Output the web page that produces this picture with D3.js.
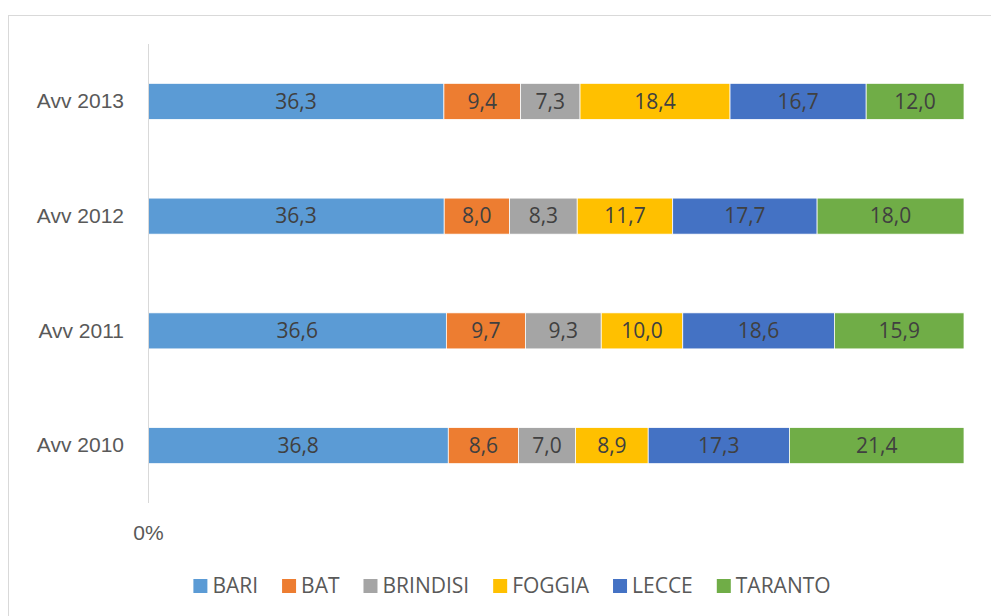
<!DOCTYPE html>
<html>
<head>
<meta charset="utf-8">
<script src="https://cdn.jsdelivr.net/npm/d3@7"></script>
<style>
  body { margin: 0; background: #fff; }
  svg { display: block; font-family: "Open Sans", "Noto Sans", sans-serif; }
</style>
</head>
<body>
<svg id="chart" width="991" height="616"></svg>
<script>
// categories, top to bottom
const years = ["Avv 2013", "Avv 2012", "Avv 2011", "Avv 2010"];
const provinces = ["BARI", "BAT", "BRINDISI", "FOGGIA", "LECCE", "TARANTO"];
const colors = ["#5B9BD5", "#ED7D31", "#A5A5A5", "#FFC000", "#4472C4", "#70AD47"];

// values per year, in province order
const bari     = [36.3, 36.3, 36.6, 36.8];
const bat      = [9.4, 8.0, 9.7, 8.6];
const brindisi = [7.3, 8.3, 9.3, 7.0];
const foggia   = [18.4, 11.7, 10.0, 8.9];
const lecce    = [16.7, 17.7, 18.6, 17.3];
const taranto  = [12.0, 18.0, 15.9, 21.4];
const xTicks = [0];

const series = [bari, bat, brindisi, foggia, lecce, taranto];
const fontSize = "21px";

const rows = years.map((y, i) => {
    const row = { year: y };
    provinces.forEach((p, k) => row[p] = series[k][i]);
    return row;
});

const svg = d3.select("#chart");

// chart frame
svg.append("rect")
    .attr("x", 8.5).attr("y", 15.5)
    .attr("width", 1000).attr("height", 700)
    .attr("fill", "none")
    .attr("stroke", "#d9d9d9");

const margin = { left: 148, top: 44, right: 27, bottom: 113 };
const width = 991 - margin.left - margin.right;
const height = 616 - margin.top - margin.bottom;

const g = svg.append("g").attr("transform", `translate(${margin.left},${margin.top})`);

const x = d3.scaleLinear().domain([0, 1]).range([0, width]);
const y = d3.scaleBand().domain(years).range([0, height]).paddingInner(0.686).paddingOuter(0.343);

const stack = d3.stack().keys(provinces).offset(d3.stackOffsetExpand);
const layers = stack(rows);

const layer = g.selectAll(".layer")
    .data(layers)
    .enter().append("g")
    .attr("class", "layer")
    .attr("fill", (d, i) => colors[i]);

layer.selectAll("rect")
    .data(d => d)
    .enter().append("rect")
    .attr("x", d => x(d[0]))
    .attr("y", d => y(d.data.year))
    .attr("width", d => x(d[1]) - x(d[0]))
    .attr("height", y.bandwidth())
    .attr("stroke", "#fff")
    .attr("stroke-width", 0.75);

layer.selectAll("text")
    .data((d) => d.map(s => ({ s, key: d.key })))
    .enter().append("text")
    .attr("x", d => (x(d.s[0]) + x(d.s[1])) / 2)
    .attr("y", d => y(d.s.data.year) + y.bandwidth() / 2)
    .attr("dy", "0.35em")
    .attr("text-anchor", "middle")
    .attr("fill", "#404040")
    .attr("font-size", fontSize)
    .text(d => d3.format(".1f")(d.s.data[d.key]).replace(".", ","));

// y axis
const yAxis = g.append("g")
    .call(d3.axisLeft(y).tickSize(0).tickPadding(24));
yAxis.select(".domain").attr("stroke", "#d9d9d9").attr("d", `M0.5,0V${height}`);
yAxis.selectAll("text").attr("fill", "#595959").attr("font-size", fontSize).attr("font-family", null);

// x axis, only 0% shown
const xAxis = g.append("g")
    .attr("transform", `translate(0,${height})`)
    .call(d3.axisBottom(x).tickValues(xTicks).tickSize(0).tickPadding(22).tickFormat(d3.format(".0%")));
xAxis.select(".domain").remove();
xAxis.selectAll("text").attr("fill", "#595959").attr("font-size", fontSize).attr("font-family", null);

// legend
const legend = svg.append("g").attr("transform", "translate(0,586)");
const items = legend.selectAll("g")
    .data(provinces)
    .enter().append("g");
items.append("rect")
    .attr("y", -7).attr("width", 14).attr("height", 14)
    .attr("fill", (d, i) => colors[i]);
items.append("text")
    .attr("x", 19).attr("dy", "0.35em")
    .attr("fill", "#595959").attr("font-size", fontSize)
    .text(d => d);

let cx = 0;
const widths = [];
items.each(function() {
    const w = 19 + d3.select(this).select("text").node().getComputedTextLength();
    widths.push(w);
});
const gap = 24;
const total = d3.sum(widths) + gap * (widths.length - 1);
cx = 512 - total / 2;
items.attr("transform", (d, i) => {
    const t = `translate(${cx},0)`;
    cx += widths[i] + gap;
    return t;
});
</script>
</body>
</html>
